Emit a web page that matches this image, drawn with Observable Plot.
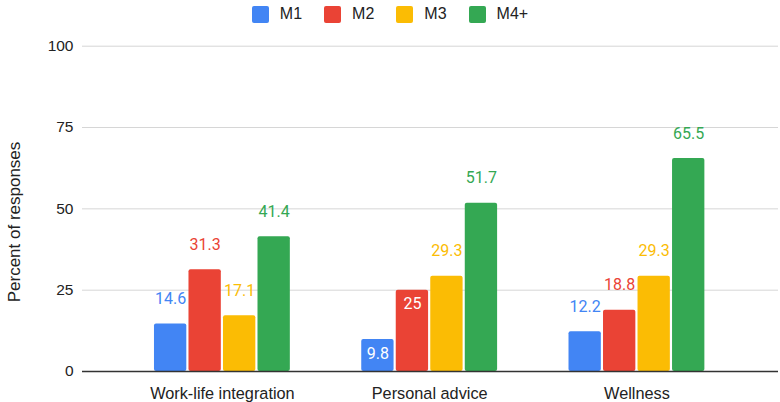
<!DOCTYPE html>
<html><head><meta charset="utf-8">
<script src="https://cdn.jsdelivr.net/npm/d3@7"></script>
<script src="https://cdn.jsdelivr.net/npm/@observablehq/plot@0.6"></script>
<style>
html,body{margin:0;padding:0;background:#fff;}
body{position:relative;width:780px;height:402px;overflow:hidden;font-family:"Liberation Sans",Arial,sans-serif;color:#222;}
#legend{height:28px;display:flex;justify-content:center;align-items:center;font-size:16px;}
#legend .item{display:flex;align-items:center;margin:0 11px;}
#legend .sw{width:17px;height:17px;border-radius:2px;margin-right:11px;}
#chart svg{display:block;}
#ytitle{position:absolute;left:15.3px;top:221.7px;transform:translate(-50%,-50%) rotate(-90deg);white-space:nowrap;font-size:17px;color:#222;}
</style></head>
<body>
<div id="legend"></div>
<div id="chart"></div>
<div id="ytitle">Percent of responses</div>
<script>
const categories = ["Work-life integration", "Personal advice", "Wellness"];
const seriesNames = ["M1", "M2", "M3", "M4+"];
const m1 = [14.6, 9.8, 12.2];
const m2 = [31.3, 25, 18.8];
const m3 = [17.1, 29.3, 29.3];
const m4 = [41.4, 51.7, 65.5];
const yTicks = [0, 25, 50, 75, 100];
const seriesColors = ["#4285F4", "#EA4335", "#FBBC04", "#34A853"];
// labels drawn inside the bar (white) instead of above it
const insideLabels = ["Personal advice|M1", "Personal advice|M2"];

const seriesValues = [m1, m2, m3, m4];
const rows = [];
categories.forEach((c, gi) => {
  seriesNames.forEach((s, si) => {
    rows.push({group: c, gi, series: s, si, value: seriesValues[si][gi], inside: insideLabels.includes(c + "|" + s)});
  });
});

const barStep = 0.1665, barWidth = 0.156;
const cx = d => d.gi + (d.si - 1.5) * barStep;

// legend
const legend = document.getElementById("legend");
seriesNames.forEach((s, i) => {
  const it = document.createElement("div");
  it.className = "item";
  const sw = document.createElement("span");
  sw.className = "sw";
  sw.style.background = seriesColors[i];
  const t = document.createElement("span");
  t.textContent = s;
  it.appendChild(sw); it.appendChild(t);
  legend.appendChild(it);
});

const chart = Plot.plot({
  width: 780,
  height: 374,
  marginLeft: 82,
  marginRight: 2,
  marginTop: 17.7,
  marginBottom: 31,
  style: {fontFamily: "'Liberation Sans', Arial, sans-serif", fontSize: "15.5px", color: "#222", background: "#fff"},
  x: {type: "linear", domain: [-0.675, 2.683]},
  y: {domain: [0, 100]},
  color: {domain: seriesNames, range: seriesColors},
  marks: [
    Plot.ruleY(yTicks.filter(t => t > 0), {stroke: "#d6d6d6", strokeWidth: 1}),
    Plot.axisY({ticks: yTicks, tickSize: 0, tickPadding: 9, label: null, fontSize: 15.5}),
    Plot.axisX({ticks: categories.map((_, i) => i), tickFormat: i => categories[i], tickSize: 0, tickPadding: 16, label: null, fontSize: 16.3}),
    Plot.rect(rows, {x1: d => cx(d) - barWidth / 2, x2: d => cx(d) + barWidth / 2, y1: 0, y2: "value", fill: "series", rx: 2}),
    Plot.ruleY([0], {stroke: "#333", strokeWidth: 1.5}),
    Plot.text(rows.filter(d => !d.inside), {x: cx, y: "value", text: d => String(d.value), fill: "series", dy: -25, fontFamily: "Roboto", fontSize: 16}),
    Plot.text(rows.filter(d => d.inside), {x: cx, y: "value", text: d => String(d.value), fill: "white", dy: 14, fontFamily: "Roboto", fontSize: 16})
  ]
});
document.getElementById("chart").appendChild(chart);
</script>
</body></html>
